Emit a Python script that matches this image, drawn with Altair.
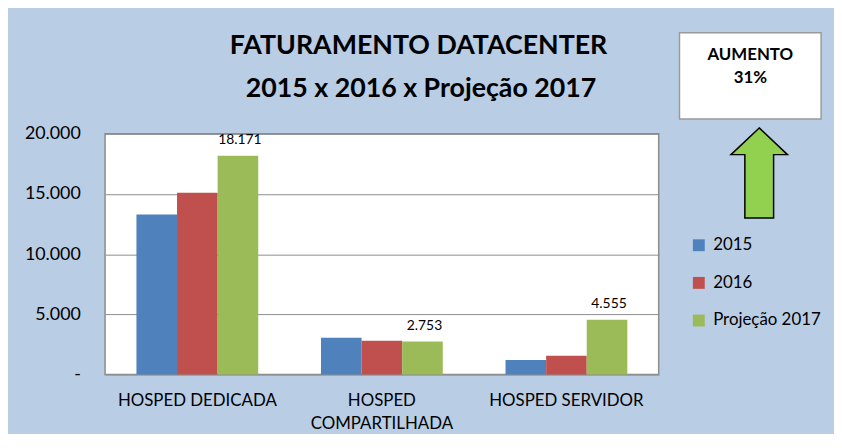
import altair as alt
import pandas as pd

categories = ["HOSPED DEDICADA", "HOSPED COMPARTILHADA", "HOSPED SERVIDOR"]
series = ["2015", "2016", "Projeção 2017"]
v2015 = [13300, 3050, 1200]
v2016 = [15100, 2800, 1560]
v2017 = [18171, 2753, 4555]
colors = ["#4F81BD", "#C0504D", "#9BBB59"]
title_lines = ["FATURAMENTO DATACENTER", "2015 x 2016 x Projeção 2017"]
box_lines = ["AUMENTO", "31%"]

rows = []
for s, vals in zip(series, [v2015, v2016, v2017]):
    for c, v in zip(categories, vals):
        rows.append({"cat": c, "serie": s, "valor": v})
df = pd.DataFrame(rows)

FONT = "Lato"

x_enc = alt.X(
    "cat:N",
    sort=categories,
    scale=alt.Scale(paddingInner=0.34, paddingOuter=0.17),
    axis=alt.Axis(
        title=None,
        labelAngle=0,
        ticks=False,
        domain=False,
        labelPadding=18,
        labelFontSize=17,
        labelFont=FONT,
        labelColor="black",
        labelLineHeight=24,
        labelExpr="datum.value == 'HOSPED COMPARTILHADA' ? ['HOSPED', 'COMPARTILHADA'] : datum.value",
    ),
)
xo_enc = alt.XOffset("serie:N", sort=series, scale=alt.Scale(paddingInner=0, paddingOuter=0))

bars = alt.Chart(df).mark_bar().encode(
    x=x_enc,
    xOffset=xo_enc,
    y=alt.Y(
        "valor:Q",
        scale=alt.Scale(domain=[0, 20000], nice=False),
        axis=alt.Axis(
            title=None,
            values=[0, 5000, 10000, 15000, 20000],
            ticks=False,
            domain=False,
            grid=True,
            gridColor="#8c8c8c",
            gridWidth=1,
            labelPadding=25,
            labelFontSize=18,
            labelFont=FONT,
            labelColor="black",
            labelExpr="datum.value == 0 ? '-\u00a0\u00a0' : replace(format(datum.value, ','), ',', '.')",
        ),
    ),
    color=alt.Color(
        "serie:N",
        sort=series,
        scale=alt.Scale(domain=series, range=colors),
        legend=alt.Legend(
            title=None,
            orient="none",
            legendX=591,
            legendY=104,
            symbolType="square",
            symbolSize=144,
            symbolStrokeWidth=0,
            labelFontSize=17,
            labelFont=FONT,
            labelColor="black",
            rowPadding=20,
            labelOffset=6,
            padding=0,
        ),
    ),
)

labels = (
    alt.Chart(df)
    .transform_filter(alt.datum.serie == "Projeção 2017")
    .transform_calculate(lbl="replace(format(datum.valor, ','), ',', '.')")
    .mark_text(fontSize=14, font=FONT, color="black", baseline="alphabetic", dy=-12, dx=2)
    .encode(x=x_enc, xOffset=xo_enc, y="valor:Q", text="lbl:N")
)

one = pd.DataFrame({"k": [0]})

title1 = alt.Chart(one).mark_text(
    text=title_lines[0], fontSize=27, font=FONT, fontWeight="bold", color="black", baseline="alphabetic"
).encode(x=alt.value(316.5), y=alt.value(-81))
title2 = alt.Chart(one).mark_text(
    text=title_lines[1], fontSize=27, font=FONT, fontWeight="bold", color="black", baseline="alphabetic"
).encode(x=alt.value(319), y=alt.value(-37))

box = alt.Chart(one).mark_rect(fill="white", stroke="#9a9a9a", strokeWidth=1.5).encode(
    x=alt.value(580), x2=alt.value(723), y=alt.value(-102), y2=alt.value(-15)
)
box_t1 = alt.Chart(one).mark_text(
    text=box_lines[0], fontSize=17, font=FONT, fontWeight="bold", color="black", baseline="alphabetic"
).encode(x=alt.value(651.5), y=alt.value(-75))
box_t2 = alt.Chart(one).mark_text(
    text=box_lines[1], fontSize=17, font=FONT, fontWeight="bold", color="black", baseline="alphabetic"
).encode(x=alt.value(651.5), y=alt.value(-51))

arrow_path = "M0,-1 L0.626,-0.407 L0.319,-0.407 L0.319,1 L-0.319,1 L-0.319,-0.407 L-0.626,-0.407 Z"
arrow = alt.Chart(one).mark_point(
    shape=arrow_path, size=8281, filled=True, fill="#92D050", stroke="black", strokeWidth=1.5, opacity=1
).encode(x=alt.value(660.5), y=alt.value(39.5))

chart = (
    alt.layer(bars, labels, title1, title2, box, box_t1, box_t2, arrow)
    .properties(
        width=559,
        height=243,
        padding={"left": 98, "top": 125, "right": 177, "bottom": 58},
        autosize=alt.AutoSizeParams(type="none"),
        background="#B9CDE5",
    )
    .configure_view(fill="white", stroke="#8c8c8c", strokeWidth=1.5)
)

chart.save("out.html", embed_options={"renderer": "svg", "actions": False})
